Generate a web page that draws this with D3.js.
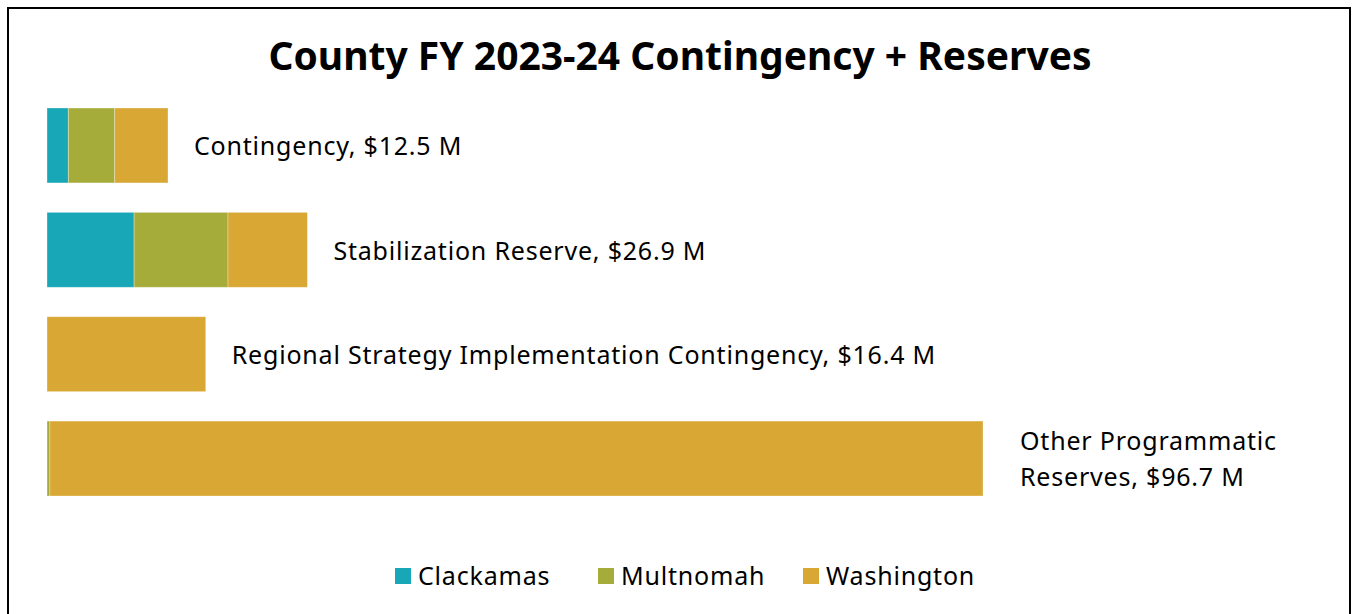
<!DOCTYPE html>
<html>
<head>
<meta charset="utf-8">
<title>County FY 2023-24 Contingency + Reserves</title>
<script src="https://d3js.org/d3.v7.min.js"></script>
<style>
  body { margin: 0; background: #fff; }
  text { font-family: "Noto Sans", sans-serif; fill: #000; }
  .lbl { font-size: 25px; letter-spacing: 0.8px; }
</style>
</head>
<body>
<script>
// data
var categories = ["Contingency", "Stabilization Reserve", "Regional Strategy Implementation Contingency", "Other Programmatic Reserves"];
var labels = [["Contingency, $12.5 M"], ["Stabilization Reserve, $26.9 M"], ["Regional Strategy Implementation Contingency, $16.4 M"], ["Other Programmatic", "Reserves, $96.7 M"]];
var counties = ["Clackamas", "Multnomah", "Washington"];
var clackamas = [2.2, 9.0, 0, 0];
var multnomah = [4.8, 9.7, 0, 0.3];
var washington = [5.5, 8.2, 16.4, 96.4];
var colors = ["#17a7b6", "#a6ac3a", "#d9a733"];

var W = 1356, H = 614;

var svg = d3.select("body").append("svg")
    .attr("width", W).attr("height", H);

// outer frame
svg.append("rect")
    .attr("x", 8).attr("y", 8)
    .attr("width", 1342).attr("height", 620)
    .attr("fill", "none").attr("stroke", "#000").attr("stroke-width", 2);

svg.append("text")
    .attr("x", 680).attr("y", 70)
    .attr("text-anchor", "middle")
    .style("font-size", "39px").style("font-weight", "bold")
    .text("County FY 2023-24 Contingency + Reserves");

var rows = categories.map(function(c, i) {
  return {cat: c, Clackamas: clackamas[i], Multnomah: multnomah[i], Washington: washington[i]};
});
var series = d3.stack().keys(counties)(rows);

var x = d3.scaleLinear().domain([0, 96.7]).range([47, 983]);
var y = d3.scaleBand().domain(categories)
    .range([108, 496])
    .paddingInner(0.282).paddingOuter(0);

svg.append("g").selectAll("g.series").data(series).join("g")
    .attr("class", "series")
    .attr("fill", function(d, i) { return colors[i]; })
  .selectAll("rect").data(function(d) { return d.filter(function(p) { return p[1] > p[0]; }); })
  .join("rect")
    .attr("x", function(d) { return x(d[0]); })
    .attr("y", function(d) { return y(d.data.cat); })
    .attr("width", function(d) { return x(d[1]) - x(d[0]); })
    .attr("height", y.bandwidth())
    .attr("stroke", "#fff").attr("stroke-opacity", 0.4).attr("stroke-width", 0.8);

// data labels
var totals = rows.map(function(r) { return r.Clackamas + r.Multnomah + r.Washington; });
categories.forEach(function(c, i) {
  var lines = labels[i];
  var cy = y(c) + y.bandwidth() / 2;
  var lx = x(totals[i]) + (lines.length > 1 ? 37 : 26);
  var t = svg.append("text")
      .attr("class", "lbl")
      .attr("y", cy - (lines.length - 1) * 18 + 1);
  lines.forEach(function(l, j) {
    t.append("tspan").attr("x", lx)
      .attr("dy", j === 0 ? "0.35em" : "36px").text(l);
  });
});

// legend
var legendX = [395, 598, 803];
var lg = svg.append("g").selectAll("g").data(counties).join("g")
    .attr("transform", function(d, i) { return "translate(" + legendX[i] + ",576)"; });
lg.append("rect").attr("x", 0).attr("y", -8).attr("width", 16).attr("height", 16)
    .attr("fill", function(d, i) { return colors[i]; });
lg.append("text").attr("class", "lbl").attr("x", 23).attr("dy", "0.35em")
    .text(function(d) { return d; });
</script>
</body>
</html>
